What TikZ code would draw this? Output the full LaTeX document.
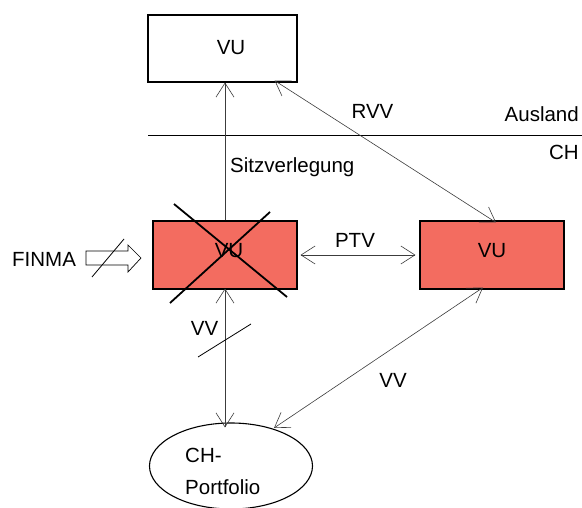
\documentclass[tikz,border=0pt]{standalone}
\usepackage{fontspec}
\setmainfont{Liberation Sans}
\usetikzlibrary{arrows.meta,shapes.geometric,calc}
\definecolor{vured}{RGB}{243,108,96}
\definecolor{thinline}{RGB}{60,60,60}
\tikzset{
  box/.style={draw=black,line width=1.1pt,minimum width=144pt,minimum height=68pt,inner sep=0pt},
  redbox/.style={box,fill=vured},
  lbl/.style={inner sep=0pt,anchor=base,font=\fontsize{20.5}{24}\selectfont},
  vtip/.tip={Straight Barb[length=14pt,width=18pt,line width=0.6pt]},
  link/.style={draw=thinline,line width=0.6pt,{vtip}-{vtip}},
  oneway/.style={draw=thinline,line width=0.6pt,-{vtip}},
  cross/.style={draw=black,line width=1.8pt},
}
\begin{document}
\begin{tikzpicture}[x=1pt,y=-1pt]
\useasboundingbox (0,0) rectangle (582,508);

% boxes
\node[box,minimum width=149pt,minimum height=67pt] (vutop) at (222.5,48.5) {};
\node[lbl] at (231,55) {VU};
\node[redbox] (vul) at (225,255) {};
\node[lbl] at (229,258) {VU};
\node[redbox] (vur) at (492,255) {};
\node[lbl] at (492,258) {VU};
\node[draw=black,line width=1.1pt,ellipse,minimum width=163pt,minimum height=86pt,inner sep=0pt] (port) at (231,466) {};
\node[lbl,anchor=base west] at (185,462) {CH-};
\node[lbl,anchor=base west] at (185,494) {Portfolio};

% border between abroad and CH
\coordinate (bl) at (148,135);
\coordinate (br) at (582,135);
\draw[line width=0.9pt] (bl) -- (br);
\node[lbl,anchor=base east] at (579,122) {Ausland};
\node[lbl,anchor=base east] at (579,160) {CH};

% crossed out company
\coordinate (c1) at (174,204);
\coordinate (c2) at (287,297);
\coordinate (c3) at (270,212);
\coordinate (c4) at (170,303);
\draw[cross] (c1) -- (c2);
\draw[cross] (c3) -- (c4);

% relocation of seat
\draw[oneway] (vul.north) -- (vul.north |- vutop.south);
\node[lbl,anchor=base west] at (230,173) {Sitzverlegung};

% RVV
\draw[link] ([xshift=-23pt,yshift=2pt]vutop.south east) -- ([xshift=4pt,yshift=-2pt]vur.north);
\node[lbl] at (372.5,119) {RVV};

% PTV
\draw[link] ([xshift=3pt]vul.east) -- ([xshift=-4pt]vur.west);
\node[lbl] at (355,247.5) {PTV};

% VV to portfolio
\draw[link] ([yshift=1pt]vul.south) -- ([yshift=-5pt]vul.south |- port.north);
\node[lbl] at (204.5,336) {VV};
\coordinate (s1) at (198,357);
\coordinate (s2) at (251,324);
\draw[line width=0.8pt] (s1) -- (s2);

\coordinate (pe) at (274,428);
\draw[link] ([xshift=-9pt,yshift=2pt]vur.south) -- (pe);
\node[lbl] at (393,387.5) {VV};

% FINMA arrow
\node[lbl,anchor=base west] (finma) at (12,267) {FINMA};
\draw[line width=0.7pt,fill=white]
  (86,251) -- (128,251) -- (128,245) -- (141,258) -- (128,272) -- (128,265) -- (86,265) -- cycle;
\coordinate (f1) at (92,277);
\coordinate (f2) at (124,239);
\draw[line width=0.8pt] (f1) -- (f2);
\end{tikzpicture}
\end{document}
